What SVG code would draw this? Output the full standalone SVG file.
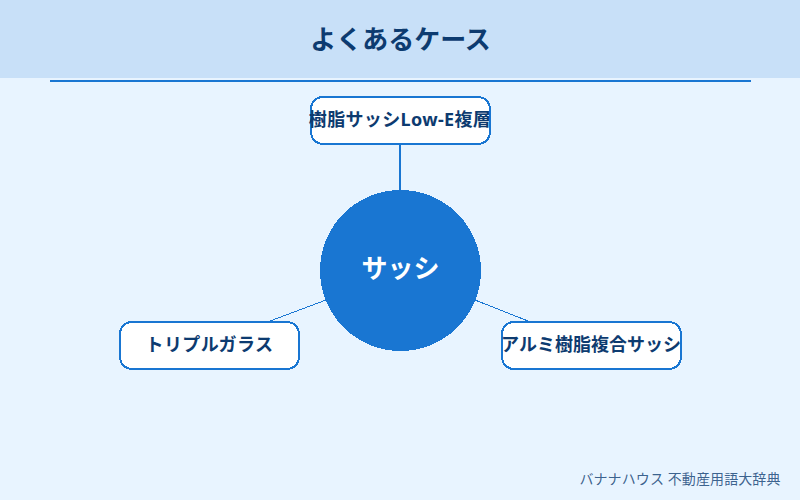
<svg xmlns="http://www.w3.org/2000/svg" width="800" height="500" viewBox="0 0 800 500">
<style>
text{font-family:"Noto Sans","Noto Sans CJK JP",sans-serif;text-anchor:middle}
.n{fill:#fff;stroke:#1976d2;stroke-width:2;shape-rendering:crispEdges}
.l{font-size:18px;font-weight:700;fill:#0d3b70}
.c{stroke:#1976d2;fill:none;shape-rendering:crispEdges}
</style>
<rect width="800" height="500" fill="#e8f4ff"/>
<rect width="800" height="78" fill="#c8e0f8"/>
<line x1="50" y1="81" x2="751" y2="81" stroke="#1976d2" stroke-width="2" shape-rendering="crispEdges"/>
<text x="400.500" y="49" font-size="26" font-weight="700" fill="#0d3b70">よくあるケース</text>
<g id="connectors">
<line class="c" x1="400" y1="145" x2="400" y2="190" stroke-width="2"/>
<line class="c" x1="270" y1="321" x2="326" y2="300"/>
<line class="c" x1="475" y1="300" x2="528" y2="321"/>
</g>
<g id="center"><circle cx="400.500" cy="270.500" r="80.500" fill="#1976d2" shape-rendering="crispEdges"/>
<text x="400.500" y="278" font-size="26" font-weight="700" fill="#fff">サッシ</text></g>
<g id="top"><rect class="n" x="311" y="97" width="179" height="47" rx="12"/>
<text class="l" x="400" y="126" letter-spacing=".35">樹脂サッシLow-E複層</text></g>
<g id="left"><rect class="n" x="120" y="322" width="179" height="47" rx="12"/>
<text class="l" x="209.500" y="351" letter-spacing=".4">トリプルガラス</text></g>
<g id="right"><rect class="n" x="502" y="322" width="179" height="47" rx="12"/>
<text class="l" x="591" y="351">アルミ樹脂複合サッシ</text></g>
<text x="680" y="484" font-size="14" fill="#0d3b70" fill-opacity=".8" letter-spacing=".1">バナナハウス 不動産用語大辞典</text>
</svg>
